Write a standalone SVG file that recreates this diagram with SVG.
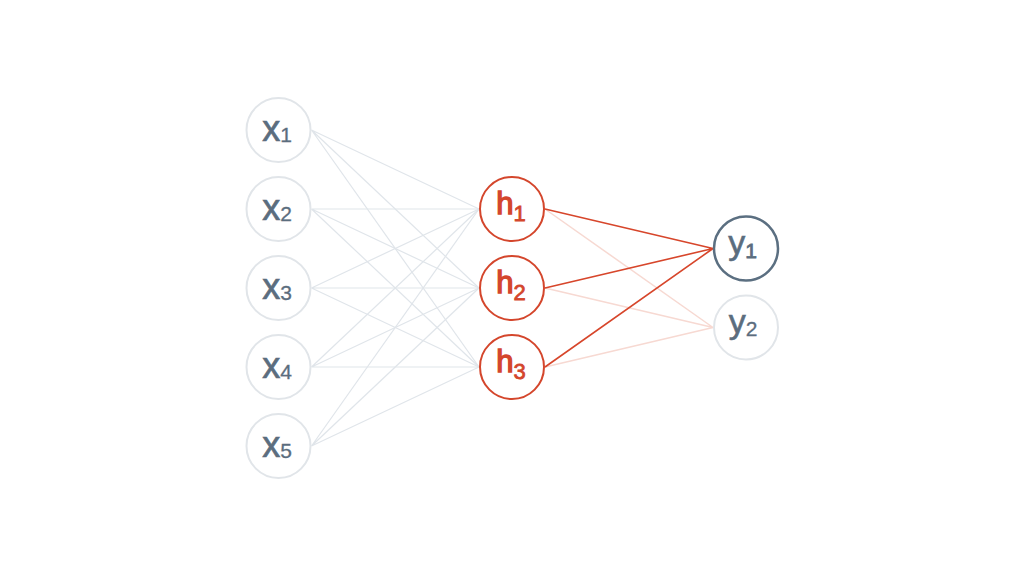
<svg xmlns="http://www.w3.org/2000/svg" width="1024" height="576" viewBox="0 0 1024 576">
<style>
.bg{fill:#ffffff}
.in circle{fill:#fff;stroke:#e1e5e9;stroke-width:2}
.hid circle{fill:#fff;stroke:#d4462c;stroke-width:2}
.out1 circle{fill:#fff;stroke:#5b6f81;stroke-width:2.5}
.out2 circle{fill:#fff;stroke:#e1e5e9;stroke-width:2}
.lab{font-family:"Liberation Sans",Arial,sans-serif;text-anchor:middle}
.xl{fill:#5b6d7e;stroke:#5b6d7e;stroke-width:0.7;font-size:36px}
.hl{fill:#d4462c;stroke:#d4462c;stroke-width:1.4;font-size:31px}
.yl{fill:#5b6d7e;stroke:#5b6d7e;stroke-width:0.6;font-size:34px}
.g{stroke:#e0e5ea;stroke-width:1.2;fill:none}
.r{stroke:#d7462b;stroke-width:1.6;fill:none}
.p{stroke:#f7d9d2;stroke-width:1.5;fill:none}
</style>
<rect class="bg" x="0" y="0" width="1024" height="576"/>
<g id="connectors">
<g class="g">
<path d="M311.5 130L479 209M311.5 130L479 288M311.5 130L479 367"/>
<path d="M311.5 209L479 209M311.5 209L479 288M311.5 209L479 367"/>
<path d="M311.5 288L479 209M311.5 288L479 288M311.5 288L479 367"/>
<path d="M311.5 367L479 209M311.5 367L479 288M311.5 367L479 367"/>
<path d="M311.5 446L479 209M311.5 446L479 288M311.5 446L479 367"/>
</g>
<g class="p">
<path d="M545 209L713 327.5M545 288L713 327.5M545 367L713 327.5"/>
</g>
<g class="r">
<path d="M545 209L713 248.5M545 288L713 248.5M545 367L713 248.5"/>
</g>
</g>
<g id="x1" class="in"><circle cx="278.5" cy="130" r="32"/><text class="lab xl" x="277" y="141">x<tspan font-size="21" stroke-width="0.3" dy="1">1</tspan></text></g>
<g id="x2" class="in"><circle cx="278.5" cy="209" r="32"/><text class="lab xl" x="277" y="220">x<tspan font-size="21" stroke-width="0.3" dy="1">2</tspan></text></g>
<g id="x3" class="in"><circle cx="278.5" cy="288" r="32"/><text class="lab xl" x="277" y="299">x<tspan font-size="21" stroke-width="0.3" dy="1">3</tspan></text></g>
<g id="x4" class="in"><circle cx="278.5" cy="367" r="32"/><text class="lab xl" x="277" y="378">x<tspan font-size="21" stroke-width="0.3" dy="1">4</tspan></text></g>
<g id="x5" class="in"><circle cx="278.5" cy="446" r="32"/><text class="lab xl" x="277" y="457">x<tspan font-size="21" stroke-width="0.3" dy="1">5</tspan></text></g>
<g id="h1" class="hid"><circle cx="512" cy="209" r="32"/><text class="lab hl" x="511" y="214">h<tspan font-size="22" stroke-width="0.8" dy="7">1</tspan></text></g>
<g id="h2" class="hid"><circle cx="512" cy="288" r="32"/><text class="lab hl" x="511" y="293">h<tspan font-size="22" stroke-width="0.8" dy="7">2</tspan></text></g>
<g id="h3" class="hid"><circle cx="512" cy="367" r="32"/><text class="lab hl" x="511" y="372">h<tspan font-size="22" stroke-width="0.8" dy="7">3</tspan></text></g>
<g id="y1" class="out1"><circle cx="746" cy="248.5" r="32"/><text class="lab yl" x="742.5" y="254" stroke-width="1.8">y<tspan font-size="21" stroke-width="0.8" dy="3.5">1</tspan></text></g>
<g id="y2" class="out2"><circle cx="746" cy="327.5" r="32"/><text class="lab yl" x="743" y="333">y<tspan font-size="21" stroke-width="0.3" dy="3">2</tspan></text></g>
</svg>
